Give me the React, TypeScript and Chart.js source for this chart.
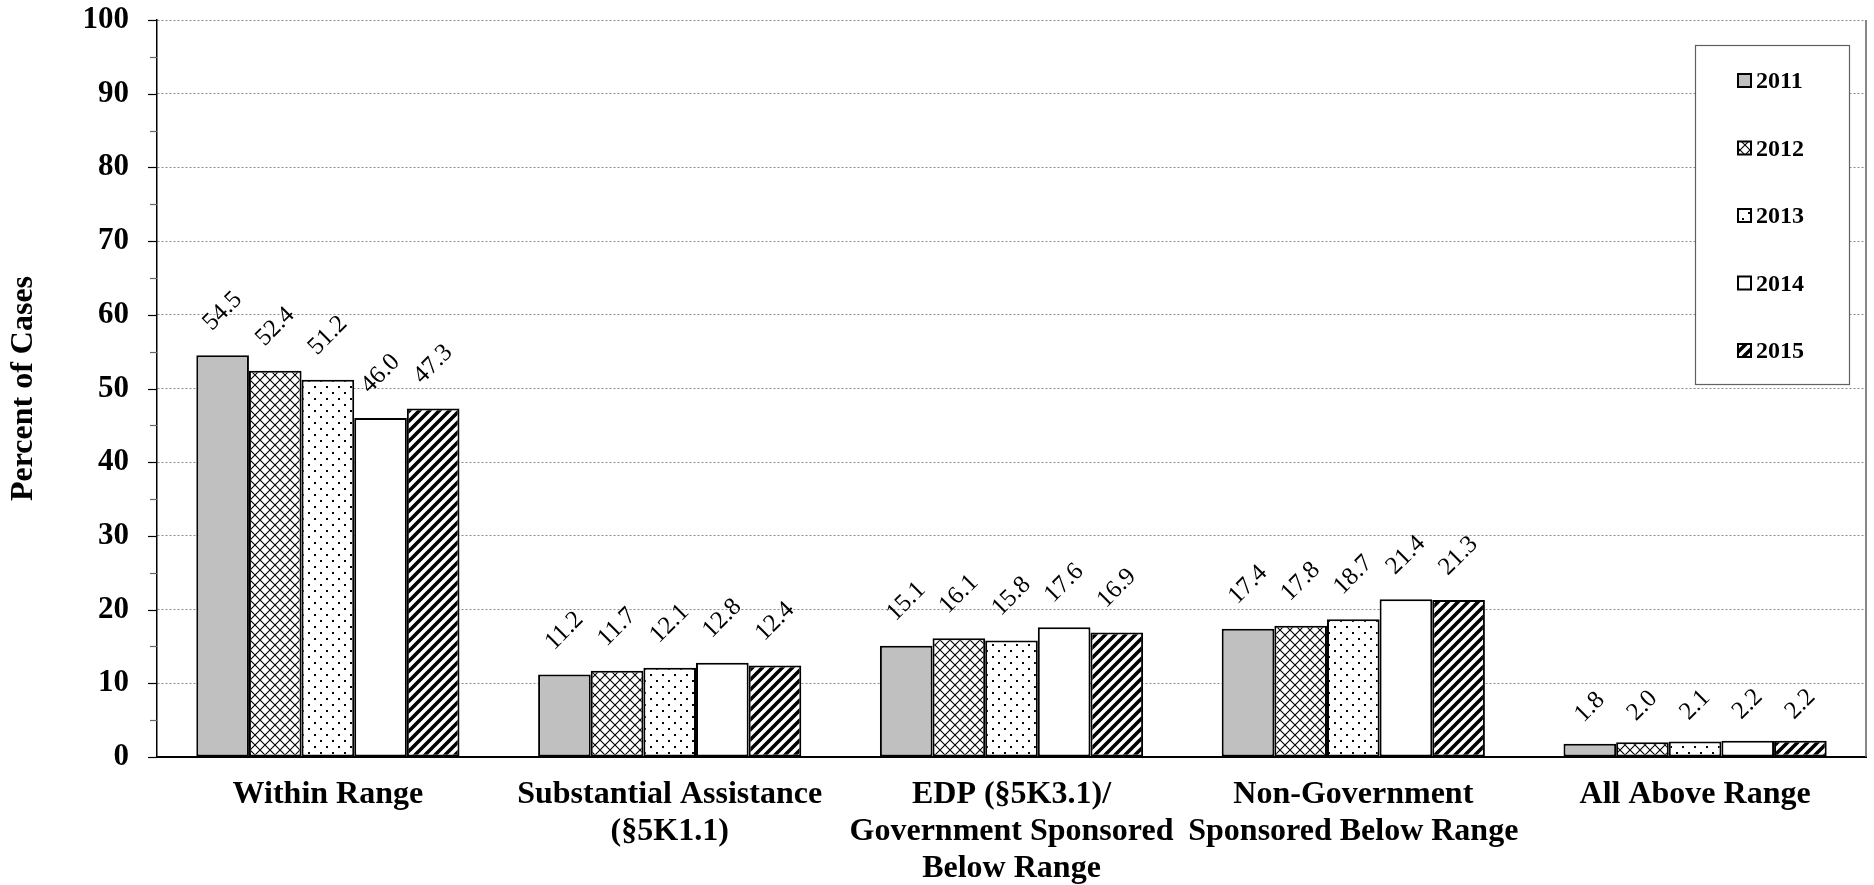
import React, { useEffect, useRef } from "react";
import { Chart, registerables } from "chart.js";

Chart.register(...registerables);

const categories: (string | string[])[] = [
  "Within Range",
  ["Substantial Assistance", "(§5K1.1)"],
  ["EDP (§5K3.1)/", "Government Sponsored", "Below Range"],
  ["Non-Government", "Sponsored Below Range"],
  "All Above Range",
];
const years = ["2011", "2012", "2013", "2014", "2015"];
const values2011 = [54.5, 11.2, 15.1, 17.4, 1.8];
const values2012 = [52.4, 11.7, 16.1, 17.8, 2.0];
const values2013 = [51.2, 12.1, 15.8, 18.7, 2.1];
const values2014 = [46.0, 12.8, 17.6, 21.4, 2.2];
const values2015 = [47.3, 12.4, 16.9, 21.3, 2.2];
const seriesValues = [values2011, values2012, values2013, values2014, values2015];
const patternKinds = ["gray", "cross", "dots", "white", "stripe"];
const yMin = 0;
const yMax = 100;
const yStep = 10;
const yAxisTitle = "Percent of Cases";

const SERIF = "'Liberation Serif', 'Times New Roman', Times, serif";

function makeFill(kind: string): CanvasPattern | string {
  if (kind === "gray") return "#c0c0c0";
  if (kind === "white") return "#ffffff";
  const c = document.createElement("canvas");
  const g = c.getContext("2d")!;
  if (kind === "cross") {
    c.width = 10; c.height = 10;
    g.fillStyle = "#fff"; g.fillRect(0, 0, 10, 10);
    g.strokeStyle = "#000"; g.lineWidth = 1.1;
    g.beginPath();
    g.moveTo(-1, -1); g.lineTo(11, 11);
    g.moveTo(11, -1); g.lineTo(-1, 11);
    g.stroke();
  } else if (kind === "dots") {
    c.width = 12; c.height = 12;
    g.fillStyle = "#fff"; g.fillRect(0, 0, 12, 12);
    g.fillStyle = "#000";
    g.fillRect(2, 2, 2, 2);
    g.fillRect(8, 8, 2, 2);
  } else if (kind === "stripe") {
    c.width = 10; c.height = 10;
    g.fillStyle = "#fff"; g.fillRect(0, 0, 10, 10);
    g.strokeStyle = "#000"; g.lineWidth = 3.6;
    g.beginPath();
    g.moveTo(-5, 15); g.lineTo(15, -5);
    g.moveTo(-10, 10); g.lineTo(10, -10);
    g.moveTo(0, 20); g.lineTo(20, 0);
    g.stroke();
  }
  return g.createPattern(c, "repeat")!;
}

const decorPlugin = {
  id: "decor",
  afterDatasetsDraw(chart: any) {
    const { ctx } = chart;
    ctx.save();
    ctx.font = `25px ${SERIF}`;
    ctx.fillStyle = "#000";
    ctx.textAlign = "center";
    ctx.textBaseline = "middle";
    chart.data.datasets.forEach((ds: any, di: number) => {
      const meta = chart.getDatasetMeta(di);
      meta.data.forEach((el: any, i: number) => {
        const txt = Number(ds.data[i]).toFixed(1);
        const w = ctx.measureText(txt).width;
        const off = w * 0.62 + 17;
        ctx.save();
        ctx.translate(el.x, el.y - off);
        ctx.rotate(-Math.PI / 4);
        ctx.fillText(txt, 0, 0);
        ctx.restore();
      });
    });
    ctx.restore();
  },
  afterDraw(chart: any) {
    const { ctx, chartArea: a, scales } = chart;
    const y = scales.y;
    ctx.save();
    // right border
    ctx.strokeStyle = "#606060";
    ctx.lineWidth = 1.5;
    ctx.beginPath();
    ctx.moveTo(a.right, a.top);
    ctx.lineTo(a.right, a.bottom);
    ctx.stroke();
    // y tick marks
    for (let v = yMin; v <= yMax; v += yStep / 2) {
      const py = Math.round(y.getPixelForValue(v)) + 0.5;
      const major = v % yStep === 0;
      ctx.strokeStyle = major ? "#000" : "#666";
      ctx.lineWidth = 1.2;
      ctx.beginPath();
      ctx.moveTo(a.left - (major ? 9 : 7), py);
      ctx.lineTo(a.left, py);
      ctx.stroke();
    }
    // legend box
    const lx = a.right - 171;
    const ly = a.top + 25;
    const lw = 154;
    const lh = 339;
    ctx.fillStyle = "#fff";
    ctx.fillRect(lx, ly, lw, lh);
    ctx.strokeStyle = "#606060";
    ctx.lineWidth = 1.2;
    ctx.strokeRect(lx + 0.5, ly + 0.5, lw, lh);
    ctx.font = `bold 24px ${SERIF}`;
    ctx.textAlign = "left";
    ctx.textBaseline = "middle";
    chart.data.datasets.forEach((ds: any, i: number) => {
      const cy = ly + 36 + i * 67.5;
      const mx = lx + 43;
      ctx.fillStyle = ds.backgroundColor;
      ctx.fillRect(mx, cy - 7, 13, 13);
      ctx.strokeStyle = "#000";
      ctx.lineWidth = 2;
      ctx.strokeRect(mx, cy - 7, 13, 13);
      ctx.fillStyle = "#000";
      ctx.fillText(ds.label, mx + 18, cy + 1);
    });
    ctx.restore();
  },
};

export default function App() {
  const ref = useRef<HTMLCanvasElement | null>(null);
  useEffect(() => {
    document.body.style.margin = "0";
    const canvas = ref.current!;
    const chart = new Chart(canvas, {
      type: "bar",
      data: {
        labels: categories as any,
        datasets: years.map((yr, i) => ({
          label: yr,
          data: seriesValues[i],
          backgroundColor: makeFill(patternKinds[i]) as any,
          borderColor: "#000",
          borderWidth: 2,
          borderSkipped: false,
          categoryPercentage: 0.77,
          barPercentage: 1.0,
        })),
      },
      options: {
        animation: false,
        responsive: true,
        maintainAspectRatio: false,
        devicePixelRatio: 1,
        layout: { padding: { top: 20, right: 8, bottom: 0, left: 0 } },
        plugins: {
          legend: { display: false },
          tooltip: { enabled: false },
        },
        scales: {
          x: {
            grid: { display: false, drawTicks: false },
            border: { display: true, color: "#000", width: 2 },
            ticks: {
              color: "#000",
              font: { family: SERIF, size: 32, weight: "bold", lineHeight: 1.16 },
              padding: 19,
              maxRotation: 0,
              minRotation: 0,
              autoSkip: false,
            },
            afterFit: (s: any) => {
              s.height = 128;
            },
          },
          y: {
            min: yMin,
            max: yMax,
            ticks: {
              stepSize: yStep,
              color: "#000",
              font: { family: SERIF, size: 31, weight: "bold" },
              padding: 0,
            },
            grid: {
              color: "#8a8a8a",
              lineWidth: 1,
              drawTicks: true,
              tickLength: 28,
              tickColor: "rgba(0,0,0,0)",
            },
            border: { display: true, color: "#000", width: 1.5, dash: [2, 2] },
            title: {
              display: true,
              text: yAxisTitle,
              color: "#000",
              font: { family: SERIF, size: 32, weight: "bold", lineHeight: 1.2 },
              padding: { top: 5, bottom: 0 },
            },
            afterFit: (s: any) => {
              s.width = 157;
            },
          },
        },
      },
      plugins: [decorPlugin],
    });
    return () => chart.destroy();
  }, []);
  return (
    <div style={{ width: 1874, height: 885, position: "relative" }}>
      <canvas ref={ref} />
    </div>
  );
}
